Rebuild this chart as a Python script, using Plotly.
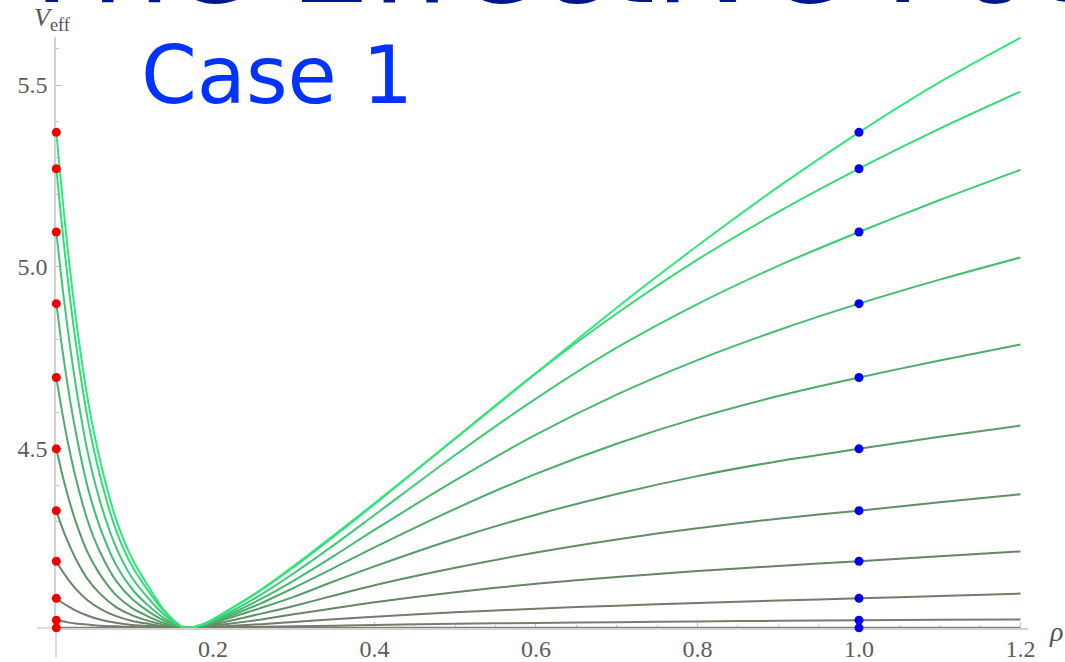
import plotly.graph_objects as go

# ---------------- data ----------------
rho = [0.006, 0.012, 0.02, 0.03, 0.045, 0.06, 0.08, 0.1, 0.12, 0.14, 0.165,
       0.19, 0.22, 0.26, 0.3, 0.35, 0.4, 0.5, 0.6, 0.7, 0.8, 0.9, 1.0, 1.1, 1.2]

v1 = [5.370, 5.226, 5.051, 4.863, 4.635, 4.470, 4.306, 4.197, 4.122, 4.055, 4.008,
      4.020, 4.058, 4.114, 4.178, 4.263, 4.350, 4.528, 4.708, 4.888, 5.058, 5.220, 5.370, 5.508, 5.630]
v2 = [5.270, 5.134, 4.970, 4.793, 4.580, 4.427, 4.276, 4.177, 4.109, 4.052, 4.008,
      4.020, 4.057, 4.112, 4.175, 4.260, 4.348, 4.529, 4.708, 4.872, 5.020, 5.151, 5.270, 5.380, 5.482]
v3 = [5.096, 4.975, 4.831, 4.676, 4.489, 4.357, 4.229, 4.145, 4.089, 4.043, 4.008,
      4.018, 4.050, 4.100, 4.158, 4.236, 4.318, 4.483, 4.638, 4.778, 4.898, 5.003, 5.096, 5.184, 5.267]
v4 = [4.899, 4.797, 4.676, 4.547, 4.393, 4.285, 4.181, 4.114, 4.069, 4.034, 4.008,
      4.017, 4.045, 4.088, 4.138, 4.206, 4.277, 4.413, 4.539, 4.649, 4.744, 4.826, 4.899, 4.965, 5.026]
v5 = [4.696, 4.616, 4.521, 4.421, 4.301, 4.217, 4.137, 4.087, 4.053, 4.027, 4.008,
      4.016, 4.040, 4.076, 4.118, 4.173, 4.229, 4.335, 4.431, 4.514, 4.585, 4.645, 4.696, 4.743, 4.787]
v6 = [4.500, 4.442, 4.373, 4.300, 4.214, 4.155, 4.098, 4.062, 4.039, 4.021, 4.008,
      4.015, 4.035, 4.063, 4.093, 4.136, 4.177, 4.253, 4.319, 4.376, 4.425, 4.466, 4.500, 4.533, 4.564]
v7 = [4.330, 4.291, 4.246, 4.198, 4.141, 4.102, 4.065, 4.042, 4.027, 4.016, 4.008,
      4.013, 4.027, 4.047, 4.068, 4.097, 4.125, 4.173, 4.215, 4.251, 4.282, 4.308, 4.330, 4.353, 4.375]
v8 = [4.191, 4.169, 4.143, 4.115, 4.083, 4.061, 4.040, 4.027, 4.019, 4.012, 4.008,
      4.011, 4.019, 4.031, 4.045, 4.062, 4.078, 4.106, 4.129, 4.148, 4.164, 4.178, 4.191, 4.205, 4.218]
v9 = [4.089, 4.079, 4.068, 4.055, 4.041, 4.031, 4.022, 4.016, 4.013, 4.010, 4.008,
      4.0095, 4.013, 4.018, 4.024, 4.0315, 4.0385, 4.0505, 4.0605, 4.069, 4.076, 4.083, 4.089, 4.0955, 4.102]
v10 = [4.029, 4.027, 4.023, 4.020, 4.017, 4.014, 4.012, 4.010, 4.009, 4.009, 4.008,
       4.0084, 4.0093, 4.0106, 4.012, 4.014, 4.016, 4.019, 4.0215, 4.0235, 4.0255, 4.0273, 4.029, 4.030, 4.031]
rho_flat = [0.006, 1.2]
v11 = [4.008, 4.008]

curves = [v1, v2, v3, v4, v5, v6, v7, v8, v9, v10]

red_x = [0.006] * 11
red_y = [5.370, 5.270, 5.096, 4.899, 4.696, 4.500, 4.330, 4.191, 4.089, 4.029, 4.008]
blue_x = [1.0] * 11
blue_y = [5.370, 5.270, 5.096, 4.899, 4.696, 4.500, 4.330, 4.191, 4.089, 4.029, 4.008]

colors = ["#2fe77a", "#35da77", "#3ccb74", "#44bb70", "#4dab6c",
          "#569c69", "#5f8f67", "#688466", "#727d69", "#7a7b70"]
flat_color = "#808077"

# ---------------- figure ----------------
fig = go.Figure()

fig.add_trace(go.Scatter(x=rho_flat, y=v11, mode="lines",
                         line=dict(color=flat_color, width=2), hoverinfo="skip"))
for vals, col in reversed(list(zip(curves, colors))):
    fig.add_trace(go.Scatter(x=rho, y=vals, mode="lines",
                             line=dict(color=col, width=2, shape="spline", smoothing=0.8),
                             hoverinfo="skip"))

fig.add_trace(go.Scatter(x=red_x, y=red_y, mode="markers", cliponaxis=False,
                         marker=dict(color="#ee0000", size=9), hoverinfo="skip"))
fig.add_trace(go.Scatter(x=blue_x, y=blue_y, mode="markers", cliponaxis=False,
                         marker=dict(color="#0000ee", size=9), hoverinfo="skip"))

axis_line = "#d2d2d2"
tick_col = "#c4c4c4"
tick_font = dict(family="Liberation Serif, Times New Roman, serif", size=24, color="#5c5c5c")

fig.update_layout(
    width=1065, height=662, autosize=False,
    margin=dict(l=56, r=37, t=37, b=34, autoexpand=False),
    paper_bgcolor="white", plot_bgcolor="white",
    showlegend=False,
    xaxis=dict(range=[0.0056, 1.2093], showline=True, linecolor=axis_line, linewidth=1.5,
               ticks="inside", ticklen=6, tickcolor=tick_col, tickwidth=1,
               tickmode="linear", tick0=0, dtick=0.2, tickformat=".1f",
               minor=dict(ticks="inside", ticklen=3.5, tickcolor=tick_col, dtick=0.05, tick0=0),
               showgrid=False, zeroline=False, tickfont=tick_font, layer="below traces",
               automargin=False, ticklabelstandoff=-2),
    yaxis=dict(range=[4.0075, 5.632], showline=True, linecolor=axis_line, linewidth=1.5,
               ticks="inside", ticklen=6, tickcolor=tick_col, tickwidth=1,
               tickmode="linear", tick0=4, dtick=0.5, tickformat=".1f",
               minor=dict(ticks="inside", ticklen=3.5, tickcolor=tick_col, dtick=0.1, tick0=4),
               showgrid=False, zeroline=False, tickfont=tick_font, layer="below traces",
               automargin=False, ticklabelstandoff=2),
)

# axis overhangs (Mathematica-style crossing axes)
fig.add_shape(type="line", xref="paper", yref="paper", x0=0, x1=0, y0=0, y1=-0.051,
              line=dict(color=axis_line, width=1.5), layer="below")
fig.add_shape(type="line", xref="paper", yref="paper", x0=-0.0195, x1=0, y0=0, y1=0,
              line=dict(color=axis_line, width=1.5), layer="below")

# axis labels
fig.add_annotation(xref="paper", yref="paper", x=-0.025, y=1.03, xanchor="left", yanchor="middle",
                   text="<i>V</i><sub>eff</sub>", showarrow=False,
                   font=dict(family="Liberation Serif, serif", size=26, color="#555555"))
fig.add_annotation(xref="paper", yref="paper", x=1.0288, y=-0.006, xanchor="center", yanchor="middle",
                   text="<i>ρ</i>", showarrow=False,
                   font=dict(family="Liberation Serif, serif", size=28, color="#555555"))

# overlaid slide texts
fig.add_annotation(xref="paper", yref="paper", x=(139 - 56) / 972, y=0.935, xanchor="left", yanchor="middle",
                   text="Case 1", showarrow=False,
                   font=dict(family="DejaVu Sans", size=80, color="#0033ff"))
fig.add_annotation(xref="paper", yref="paper", x=(10 - 56) / 972, y=1.005, xanchor="left", yanchor="bottom",
                   text="The Effective Potential", showarrow=False,
                   font=dict(family="DejaVu Sans", size=127, color="#00168c"))

fig.write_html("out.html")
